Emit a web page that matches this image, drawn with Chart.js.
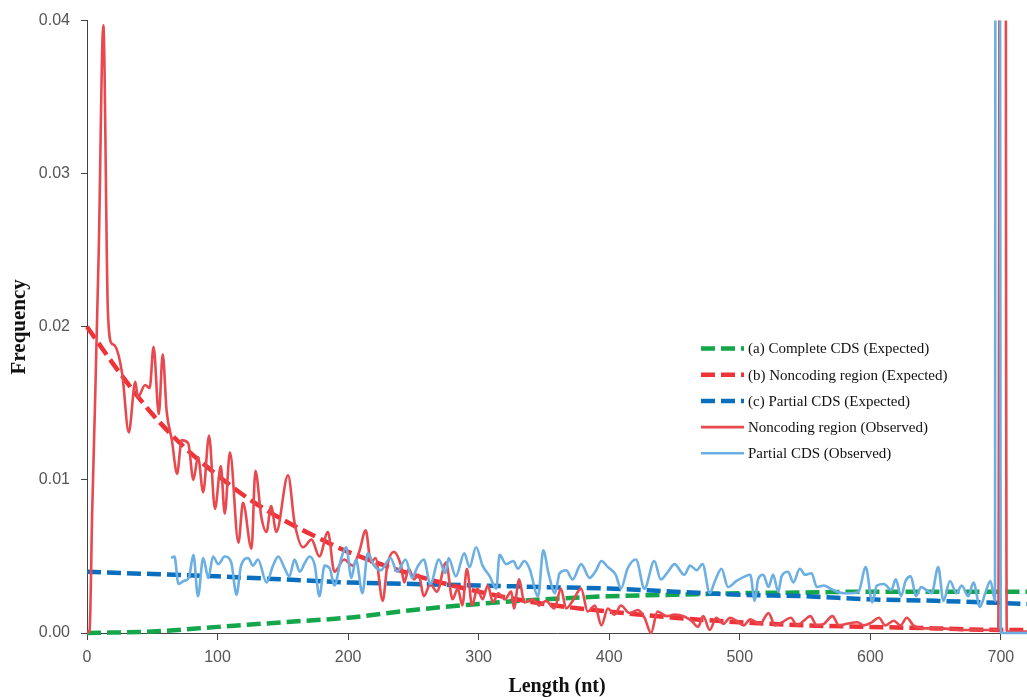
<!DOCTYPE html>
<html>
<head>
<meta charset="utf-8">
<script src="https://cdn.jsdelivr.net/npm/chart.js@4.4.0/dist/chart.umd.min.js"></script>
<style>
  body { margin: 0; background: #fff; }
  canvas { display: block; }
</style>
</head>
<body>
<canvas id="myChart" width="1027" height="697"></canvas>
<script>
// expected curves
var completeExpX = [0, 50, 100, 150, 200, 250, 300, 350, 400, 450, 500, 550, 600, 650, 720];
var completeExpY = [0, 0.0001, 0.0004, 0.0007, 0.0010, 0.0015, 0.0019, 0.0022, 0.0024, 0.0025, 0.0026, 0.00265, 0.0027, 0.0027, 0.0027];

var noncodingExpX = [0, 25, 50, 75, 100, 125, 150, 175, 200, 250, 300, 350, 400, 450, 500, 550, 600, 650, 700, 720];
var noncodingExpY = [0.0200, 0.0170, 0.0143, 0.0121, 0.0103, 0.0087, 0.0074, 0.0063, 0.0053, 0.0038, 0.0027, 0.0019, 0.0014, 0.0010, 0.0007, 0.0005, 0.0004, 0.0003, 0.0002, 0.0002];

var partialExpX = [0, 50, 100, 150, 200, 250, 300, 350, 400, 450, 500, 550, 600, 650, 720];
var partialExpY = [0.0040, 0.00385, 0.0037, 0.0035, 0.0033, 0.0032, 0.0031, 0.0030, 0.0029, 0.0027, 0.0025, 0.0024, 0.0022, 0.0021, 0.0019];

// observed noncoding region
var noncodingObsX = [0, 2, 4, 6, 9, 12.5, 16, 19, 21, 27, 32, 37, 39, 44.5, 48, 51, 55, 58, 61, 65, 69, 72.5, 77.5, 81.5, 85, 89, 93.5, 98, 102.5, 105.5, 109.5, 116, 119.5, 126, 129, 133.5, 137.5, 141, 145, 154, 159, 165.5, 172, 178, 184.5, 189.5, 197, 203.5, 208.5, 213.5, 217.5, 221, 226.5, 230, 235, 240.5, 243, 246.5, 250.5, 254, 258, 263, 268, 275, 280, 284, 287.5, 291, 295, 299, 303, 307, 311, 315, 320, 325, 327, 331, 335, 341.5, 346.5, 351.5, 358, 363, 367, 372, 378.5, 383.5, 389, 394, 399, 404, 409, 415.5, 422, 427, 432, 437, 444, 450, 457, 463, 468, 472, 477, 482, 487.5, 492.5, 497.5, 503, 508, 515.5, 522, 527, 532.5, 539, 544, 549, 554, 559, 564.5, 571, 576, 582, 590, 595, 601, 606.5, 611.5, 618, 623, 628, 633, 641, 654, 670, 685, 698, 701.5, 704.5, 710, 720];
var noncodingObsY = [0, 0.0002, 0.008, 0.0145, 0.025, 0.0397, 0.021, 0.0189, 0.0188, 0.0169, 0.0131, 0.0164, 0.0154, 0.0162, 0.0160, 0.0187, 0.0143, 0.0182, 0.0145, 0.0126, 0.0104, 0.0126, 0.0124, 0.0100, 0.0115, 0.0092, 0.0129, 0.0081, 0.0109, 0.0078, 0.0118, 0.0059, 0.0085, 0.0055, 0.0106, 0.0076, 0.0066, 0.0083, 0.0066, 0.0103, 0.0072, 0.0056, 0.0061, 0.0050, 0.0066, 0.0040, 0.0048, 0.0044, 0.0053, 0.0067, 0.0046, 0.0049, 0.0021, 0.0044, 0.0053, 0.0044, 0.0033, 0.0042, 0.0035, 0.0038, 0.0024, 0.0032, 0.0027, 0.0046, 0.0022, 0.0029, 0.0018, 0.0042, 0.0018, 0.0029, 0.0022, 0.0031, 0.0020, 0.0026, 0.0022, 0.0027, 0.0016, 0.0035, 0.0020, 0.0022, 0.0018, 0.0021, 0.0016, 0.0029, 0.0016, 0.0021, 0.0029, 0.0014, 0.0018, 0.0005, 0.0016, 0.0012, 0.0018, 0.0013, 0.0015, 0.0010, 0.0000, 0.0014, 0.0011, 0.0012, 0.0011, 0.0008, 0.0004, 0.0011, 0.0002, 0.0010, 0.0006, 0.0010, 0.0008, 0.0005, 0.0009, 0.0006, 0.0013, 0.0005, 0.0007, 0.0010, 0.0005, 0.0008, 0.0011, 0.0005, 0.0006, 0.0011, 0.0005, 0.0006, 0.0007, 0.0005, 0.0007, 0.0010, 0.0005, 0.0008, 0.0005, 0.0010, 0.0005, 0.0003, 0.0003, 0.0002, 0.0002, 0.0002, 0.30, 0.0001, 0.0001, 0.0001];

// observed partial CDS
var partialObsX = [64.5, 67, 70, 74, 78, 81.5, 85, 89, 93, 96.5, 100.5, 105.5, 110.5, 114.5, 118, 123.5, 127, 131, 137.5, 142.5, 146.5, 151.5, 155, 159, 163, 167, 170.5, 174.5, 178, 182, 186, 189.5, 194.5, 198.5, 202.5, 206, 211, 215, 220, 225, 232.5, 237.5, 244, 249, 253, 258, 263, 269.5, 274.5, 277, 282.5, 289, 293, 298, 303, 308.5, 313.5, 316, 321, 326.5, 330, 335, 339, 345.5, 349.5, 353.5, 358.5, 362, 367, 372, 378.5, 385, 390, 394, 399, 405, 409, 414, 420.5, 427, 434.5, 439.5, 445, 450, 457.5, 462, 467, 471.5, 477, 481, 486, 491, 497.5, 504, 508, 511.5, 514, 518, 522, 525.5, 529.5, 532, 537, 541, 546, 550, 555, 559, 564.5, 569.5, 574.5, 580, 586, 591, 596.5, 601.5, 605, 610.5, 616, 619.5, 623.5, 627, 631, 635, 639, 643, 647, 652, 656, 661, 666, 670, 675, 679, 684, 688, 692, 695.5, 697.5, 700, 720];
var partialObsY = [0.0049, 0.0050, 0.0032, 0.0034, 0.0036, 0.0051, 0.0024, 0.0049, 0.0036, 0.0050, 0.0045, 0.0050, 0.0046, 0.0025, 0.0044, 0.0049, 0.0044, 0.0048, 0.0033, 0.0044, 0.0050, 0.0042, 0.0037, 0.0048, 0.0040, 0.0046, 0.0050, 0.0044, 0.0024, 0.0044, 0.0042, 0.0031, 0.0048, 0.0056, 0.0036, 0.0048, 0.0026, 0.0052, 0.0044, 0.0041, 0.0049, 0.0040, 0.0048, 0.0036, 0.0043, 0.0048, 0.0032, 0.0048, 0.0039, 0.0049, 0.0037, 0.0052, 0.0043, 0.0056, 0.0044, 0.0037, 0.0029, 0.0051, 0.0045, 0.0047, 0.0042, 0.0047, 0.0042, 0.0024, 0.0054, 0.0039, 0.0026, 0.0039, 0.0041, 0.0035, 0.0045, 0.0036, 0.0041, 0.0047, 0.0043, 0.0038, 0.0029, 0.0042, 0.0048, 0.0029, 0.0047, 0.0035, 0.0040, 0.0045, 0.0038, 0.0044, 0.0041, 0.0045, 0.0026, 0.0034, 0.0042, 0.0030, 0.0034, 0.0037, 0.0038, 0.0021, 0.0035, 0.0038, 0.0030, 0.0038, 0.0027, 0.0037, 0.0040, 0.0033, 0.0042, 0.0038, 0.0039, 0.0030, 0.0031, 0.0029, 0.0027, 0.0026, 0.0026, 0.0027, 0.0043, 0.0020, 0.0031, 0.0032, 0.0028, 0.0035, 0.0024, 0.0034, 0.0037, 0.0024, 0.0030, 0.0028, 0.0026, 0.0043, 0.0021, 0.0034, 0.0026, 0.0031, 0.0024, 0.0033, 0.0017, 0.0026, 0.0034, 0.0021, 0.30, 0.0000, 0.0000];

var xTicks = [0, 100, 200, 300, 400, 500, 600, 700];

function toPoints(xs, ys) {
    return xs.map(function(x, i) { return {x: x, y: ys[i]}; });
}

var DASH = [14, 6];

var legendPlugin = {
    id: 'insideLegend',
    afterDraw: function(chart) {
        var ctx = chart.ctx;
        var x0 = 701, y0 = 348.5, rowH = 26.2;
        chart.data.datasets.forEach(function(ds, i) {
            var y = y0 + i * rowH;
            ctx.save();
            ctx.strokeStyle = ds.borderColor;
            ctx.lineWidth = ds.borderWidth;
            ctx.setLineDash(ds.borderDash || []);
            ctx.beginPath();
            ctx.moveTo(x0, y);
            ctx.lineTo(x0 + 43, y);
            ctx.stroke();
            ctx.setLineDash([]);
            ctx.fillStyle = '#111';
            ctx.font = '15px "Liberation Serif"';
            ctx.textBaseline = 'middle';
            ctx.fillText(ds.label, x0 + 47, y + 1);
            ctx.restore();
        });
    }
};

var ctx = document.getElementById("myChart").getContext('2d');
var clipBox = {left: 6, top: 0, right: 0, bottom: 6};

var myChart = new Chart(ctx, {
    type: 'line',
    data: {
        datasets: [{
            label: '(a) Complete CDS (Expected)',
            data: toPoints(completeExpX, completeExpY),
            borderColor: '#13a64b',
            borderWidth: 4.5,
            borderDash: DASH,
            order: 4
        }, {
            label: '(b) Noncoding region (Expected)',
            data: toPoints(noncodingExpX, noncodingExpY),
            borderColor: '#ee3237',
            borderWidth: 4.5,
            borderDash: DASH,
            order: 2
        }, {
            label: '(c) Partial CDS (Expected)',
            data: toPoints(partialExpX, partialExpY),
            borderColor: '#0a6fbe',
            borderWidth: 4.5,
            borderDash: DASH,
            order: 3
        }, {
            label: 'Noncoding region (Observed)',
            data: toPoints(noncodingObsX, noncodingObsY),
            borderColor: '#e8494f',
            borderWidth: 2.6,
            order: 1
        }, {
            label: 'Partial CDS (Observed)',
            data: toPoints(partialObsX, partialObsY),
            borderColor: '#6cafe2',
            borderWidth: 2.6,
            order: 0
        }]
    },
    options: {
        responsive: false,
        animation: false,
        devicePixelRatio: 1,
        layout: { padding: { top: 18, right: 0, left: 0, bottom: 0 } },
        elements: {
            point: { radius: 0 },
            line: { cubicInterpolationMode: 'monotone', fill: false }
        },
        datasets: { line: { clip: clipBox } },
        plugins: {
            legend: { display: false },
            tooltip: { enabled: false }
        },
        scales: {
            x: {
                type: 'linear',
                min: 0,
                max: 720,
                afterFit: function(scale) { scale.height = 64; },
                afterBuildTicks: function(scale) {
                    scale.ticks = xTicks.map(function(v) { return {value: v}; });
                },
                grid: { drawOnChartArea: false, tickLength: 7, color: '#444' },
                border: { color: '#444', width: 1 },
                ticks: {
                    padding: 8,
                    color: '#555',
                    font: { family: '"Liberation Sans", Arial', size: 16 },
                    maxRotation: 0
                },
                title: {
                    display: true,
                    text: 'Length (nt)',
                    color: '#111',
                    font: { family: '"Liberation Serif", "Times New Roman"', size: 20, weight: 'bold', lineHeight: 1 },
                    padding: 0
                }
            },
            y: {
                min: 0,
                max: 0.04,
                afterFit: function(scale) { scale.width = 87; },
                grid: { drawOnChartArea: false, tickLength: 6, color: '#444' },
                border: { color: '#444', width: 1 },
                ticks: {
                    stepSize: 0.01,
                    padding: 11,
                    color: '#555',
                    font: { family: '"Liberation Sans", Arial', size: 16 },
                    callback: function(v) { return v.toFixed(2); }
                },
                title: {
                    display: true,
                    text: 'Frequency',
                    color: '#111',
                    font: { family: '"Liberation Serif", "Times New Roman"', size: 21, weight: 'bold', lineHeight: 1 },
                    padding: { top: 9, bottom: 0 }
                }
            }
        }
    },
    plugins: [legendPlugin]
});
</script>
</body>
</html>
